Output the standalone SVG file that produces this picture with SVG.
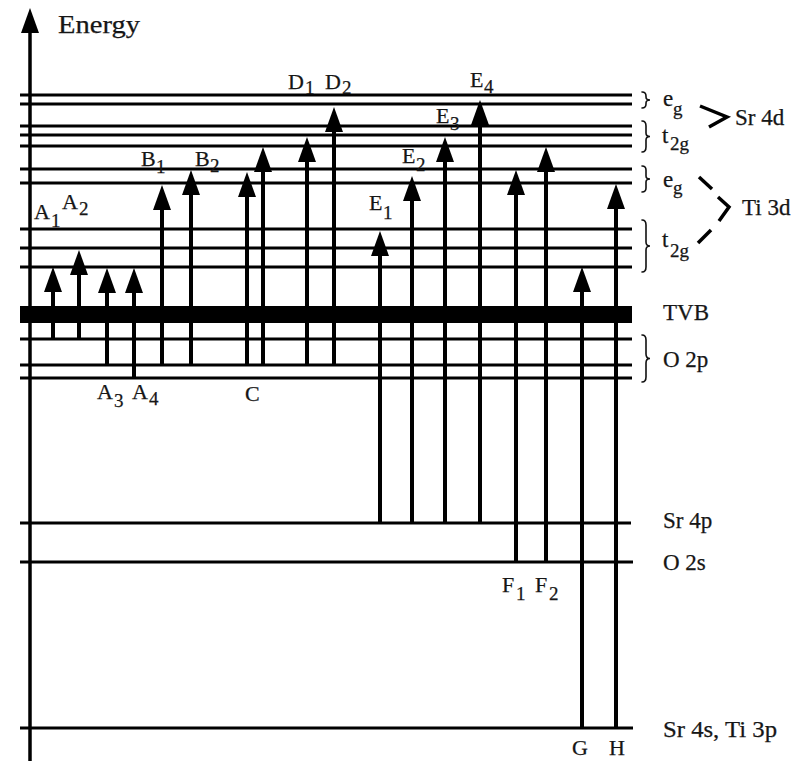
<svg xmlns="http://www.w3.org/2000/svg" width="803" height="761" viewBox="0 0 803 761">
<style>
.lv{stroke:#000;stroke-width:3;fill:none}
.ar{stroke:#000;stroke-width:4;fill:none;marker-end:url(#ah)}
.ax{stroke:#000;stroke-width:3.5;fill:none;marker-end:url(#ah)}
.br{stroke:#111;stroke-width:1.6;fill:none;stroke-linecap:round}
.ch{stroke:#000;stroke-width:3.5;fill:none}
text{font-family:"Liberation Serif","Times New Roman",serif;fill:#161616;stroke:#161616;stroke-width:0.25}
.lb{font-size:22px}
.sb{font-size:19px}
.rt{font-size:23px}
</style>
<defs>
<marker id="ah" markerUnits="userSpaceOnUse" markerWidth="25" markerHeight="18" refX="19" refY="9" orient="auto" viewBox="0 0 25 18">
<path d="M0,0 L25,9 L0,18 z" fill="#000"/>
</marker>
</defs>

<g id="axis">
<line class="ax" x1="30" y1="761" x2="30" y2="14"/>
<text x="58" y="33" style="font-size:26px" textLength="82" lengthAdjust="spacingAndGlyphs">Energy</text>
</g>

<g id="levels">
<g id="sr4d-eg"><line class="lv" x1="20" y1="95" x2="632" y2="95"/><line class="lv" x1="20" y1="104" x2="632" y2="104"/></g>
<g id="sr4d-t2g"><line class="lv" x1="20" y1="126" x2="632" y2="126"/><line class="lv" x1="20" y1="135" x2="632" y2="135"/><line class="lv" x1="20" y1="146" x2="632" y2="146"/></g>
<g id="ti3d-eg"><line class="lv" x1="20" y1="169" x2="632" y2="169"/><line class="lv" x1="20" y1="183" x2="632" y2="183"/></g>
<g id="ti3d-t2g"><line class="lv" x1="20" y1="229" x2="632" y2="229"/><line class="lv" x1="20" y1="248" x2="632" y2="248"/><line class="lv" x1="20" y1="267" x2="632" y2="267"/></g>
<g id="tvb"><rect x="20" y="306" width="612" height="17" fill="#000"/></g>
<g id="o2p"><line class="lv" x1="20" y1="339" x2="632" y2="339"/><line class="lv" x1="20" y1="365" x2="632" y2="365"/><line class="lv" x1="20" y1="378" x2="632" y2="378"/></g>
<g id="sr4p"><line class="lv" x1="20" y1="523" x2="631" y2="523"/></g>
<g id="o2s"><line class="lv" x1="20" y1="562" x2="633" y2="562"/></g>
<g id="sr4s-ti3p"><line class="lv" x1="20" y1="728" x2="633" y2="728"/></g>
</g>

<g id="connectors">
<line class="ar" x1="53" y1="339" x2="53" y2="273"/>
<line class="ar" x1="79" y1="339" x2="79" y2="256"/>
<line class="ar" x1="107" y1="365" x2="107" y2="274"/>
<line class="ar" x1="134" y1="378" x2="134" y2="274"/>
<line class="ar" x1="162" y1="365" x2="162" y2="191"/>
<line class="ar" x1="191" y1="365" x2="191" y2="176"/>
<line class="ar" x1="247" y1="365" x2="247" y2="178"/>
<line class="ar" x1="263" y1="365" x2="263" y2="153"/>
<line class="ar" x1="307" y1="365" x2="307" y2="143"/>
<line class="ar" x1="334" y1="365" x2="334" y2="113"/>
<line class="ar" x1="380" y1="523" x2="380" y2="237"/>
<line class="ar" x1="412" y1="523" x2="412" y2="182"/>
<line class="ar" x1="445" y1="523" x2="445" y2="143"/>
<line class="ar" x1="480" y1="523" x2="480" y2="106"/>
<line class="ar" x1="516" y1="562" x2="516" y2="176"/>
<line class="ar" x1="546" y1="562" x2="546" y2="153"/>
<line class="ar" x1="582" y1="728" x2="582" y2="273"/>
<line class="ar" x1="616" y1="728" x2="616" y2="190"/>
</g>

<g id="transition-labels">
<text class="lb" x="34" y="219">A<tspan class="sb" x="51" y="227">1</tspan></text>
<text class="lb" x="62" y="209">A<tspan class="sb" x="79" y="215">2</tspan></text>
<text class="lb" x="97" y="399">A<tspan class="sb" x="114" y="407">3</tspan></text>
<text class="lb" x="132" y="399">A<tspan class="sb" x="149" y="405">4</tspan></text>
<text class="lb" x="141" y="166">B<tspan class="sb" x="156" y="173">1</tspan></text>
<text class="lb" x="195" y="166">B<tspan class="sb" x="210" y="172">2</tspan></text>
<text class="lb" x="245" y="401">C</text>
<text class="lb" x="288" y="89">D<tspan class="sb" x="305" y="94">1</tspan></text>
<text class="lb" x="325" y="89">D<tspan class="sb" x="342" y="94">2</tspan></text>
<text class="lb" x="369" y="210">E<tspan class="sb" x="383" y="219">1</tspan></text>
<text class="lb" x="402" y="163">E<tspan class="sb" x="416" y="171">2</tspan></text>
<text class="lb" x="436" y="123">E<tspan class="sb" x="450" y="130">3</tspan></text>
<text class="lb" x="470" y="87">E<tspan class="sb" x="484" y="93">4</tspan></text>
<text class="lb" x="502" y="592">F<tspan class="sb" x="516" y="600">1</tspan></text>
<text class="lb" x="535" y="592">F<tspan class="sb" x="549" y="600">2</tspan></text>
<text class="lb" x="572" y="755">G</text>
<text class="lb" x="609" y="755">H</text>
</g>

<g id="braces">
<path class="br" d="M642,92 Q646,92 646,96 L646,97 Q646,100 650,100 Q646,100 646,103 L646,104 Q646,108 642,108"/>
<path class="br" d="M642,121 Q646,121 646,126 L646,133 Q646,136.5 650,136.5 Q646,136.5 646,140 L646,147 Q646,152 642,152"/>
<path class="br" d="M642,166 Q646,166 646,170 L646,176 Q646,179 650,179 Q646,179 646,182 L646,188 Q646,192 642,192"/>
<path class="br" d="M642,220 Q646,220 646,225 L646,242 Q646,246 650,246 Q646,246 646,250 L646,267 Q646,272 642,272"/>
<path class="br" d="M642,335 Q646,335 646,340 L646,354 Q646,358.5 650,358.5 Q646,358.5 646,363 L646,377 Q646,382 642,382"/>
</g>

<g id="group-marks">
<polyline class="ch" points="700,106 727,117 709,127"/>
<line class="ch" x1="699" y1="177" x2="712" y2="189"/>
<polyline class="ch" points="718,197 729,207 719,221"/>
<line class="ch" x1="711" y1="230" x2="698" y2="243"/>
</g>

<g id="level-labels">
<text class="rt" x="663" y="106">e<tspan class="sb" x="673" y="115">g</tspan></text>
<text class="rt" x="662" y="143">t<tspan class="sb" x="670" y="150">2g</tspan></text>
<text class="rt" x="663" y="187">e<tspan class="sb" x="673" y="194">g</tspan></text>
<text class="rt" x="662" y="247">t<tspan class="sb" x="670" y="257">2g</tspan></text>
<text class="rt" x="735" y="125">Sr 4d</text>
<text class="rt" x="742" y="215">Ti 3d</text>
<text class="rt" x="663" y="320">TVB</text>
<text class="rt" x="663" y="367">O 2p</text>
<text class="rt" x="663" y="528">Sr 4p</text>
<text class="rt" x="663" y="570">O 2s</text>
<text class="rt" x="663" y="737" textLength="114" lengthAdjust="spacingAndGlyphs">Sr 4s, Ti 3p</text>
</g>
</svg>
